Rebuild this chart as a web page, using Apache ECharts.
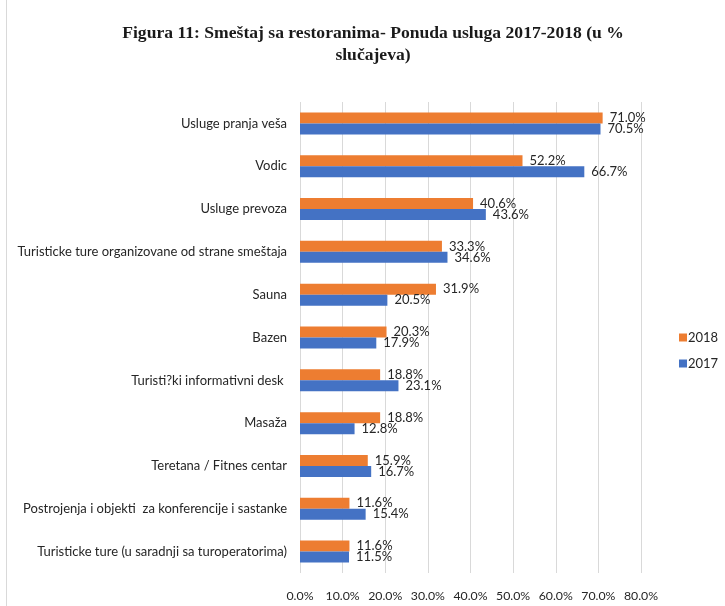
<!DOCTYPE html>
<html>
<head>
<meta charset="utf-8">
<script src="https://cdn.jsdelivr.net/npm/echarts@6/dist/echarts.min.js"></script>
<style>html,body{margin:0;padding:0;background:#fff}#c{width:725px;height:606px}</style>
</head>
<body>
<div id="c"></div>
<script>
const categories = [
  "Usluge pranja veša",
  "Vodic",
  "Usluge prevoza",
  "Turisticke ture organizovane od strane smeštaja",
  "Sauna",
  "Bazen",
  "Turisti?ki informativni desk ",
  "Masaža",
  "Teretana / Fitnes centar",
  "Postrojenja i objekti  za konferencije i sastanke",
  "Turisticke ture (u saradnji sa turoperatorima)"
];
const values2018 = [71.0, 52.2, 40.6, 33.3, 31.9, 20.3, 18.8, 18.8, 15.9, 11.6, 11.6];
const values2017 = [70.5, 66.7, 43.6, 34.6, 20.5, 17.9, 23.1, 12.8, 16.7, 15.4, 11.5];
const seriesNames = ["2018", "2017"];
const tickFormat = v => v.toFixed(1) + '%';

const chart = echarts.init(document.getElementById('c'), null, {renderer: 'canvas'});
const labelFont = 'Lato, "Noto Sans", sans-serif';
const barLabel = {
  show: true, position: 'right', distance: 7,
  formatter: p => p.value.toFixed(1) + '%',
  color: '#262626', fontSize: 13, fontFamily: labelFont
};
chart.setOption({
  animation: false,
  graphic: [{
    type: 'rect', shape: {x: 6.5, y: -10, width: 800, height: 700},
    style: {fill: 'none', stroke: '#d9d9d9', lineWidth: 1}, silent: true
  }],
  title: {
    text: 'Figura 11: Smeštaj sa restoranima- Ponuda usluga 2017-2018 (u %\nslučajeva)',
    left: 368, top: 17, textAlign: 'center',
    textStyle: {fontFamily: '"Liberation Serif", serif', fontWeight: 'bold', fontSize: 17.6, lineHeight: 22, color: '#1a1a1a'}
  },
  legend: {
    orient: 'vertical', left: 674, top: 326, itemWidth: 8, itemHeight: 8, itemGap: 13,
    icon: 'rect',
    textStyle: {fontFamily: labelFont, fontSize: 13, color: '#262626', padding: [0,0,0,-4]},
    data: seriesNames
  },
  grid: {left: 300, right: 84, top: 102, bottom: 33, containLabel: false},
  xAxis: {
    type: 'value', min: 0, max: 80, interval: 10,
    axisLabel: {formatter: tickFormat, fontFamily: labelFont, fontSize: 12.3, color: '#262626', margin: 17},
    splitLine: {show: true, lineStyle: {color: '#d9d9d9', width: 1}},
    axisLine: {show: false}, axisTick: {show: false}
  },
  yAxis: {
    type: 'category', data: categories, inverse: true,
    axisLabel: {fontFamily: labelFont, fontSize: 13, color: '#262626', margin: 13},
    axisLine: {show: false}, axisTick: {show: false}
  },
  series: [
    {name: seriesNames[0], type: 'bar', data: values2018, barWidth: 11, barGap: '0%',
     itemStyle: {color: '#ED7D31'}, label: barLabel},
    {name: seriesNames[1], type: 'bar', data: values2017, barWidth: 11, barGap: '0%',
     itemStyle: {color: '#4472C4'}, label: barLabel}
  ]
});
</script>
</body>
</html>
